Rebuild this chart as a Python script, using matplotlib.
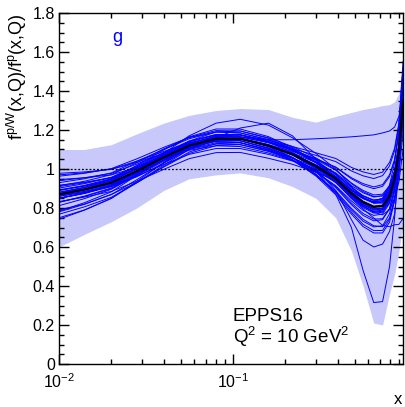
import matplotlib
matplotlib.use("Agg")
import matplotlib.pyplot as plt
from matplotlib.ticker import FixedLocator, LogLocator, MultipleLocator, NullFormatter, FuncFormatter

plt.rcParams['font.family'] = ['Liberation Sans', 'DejaVu Sans']
plt.rcParams['mathtext.fontset'] = 'custom'
plt.rcParams['mathtext.rm'] = 'Liberation Sans'
plt.rcParams['mathtext.it'] = 'Liberation Sans:italic'

# gluon nuclear modification for W (EPPS16, Q^2 = 10 GeV^2)
x_nodes = [0.01, 0.014, 0.02, 0.028, 0.04, 0.056, 0.08, 0.11, 0.16, 0.22,
           0.3, 0.39, 0.48, 0.56, 0.645, 0.725, 0.795, 0.85, 0.9, 0.95]

central = [0.87, 0.895, 0.93, 0.99, 1.06, 1.12, 1.155, 1.155, 1.12, 1.075,
           1.015, 0.95, 0.875, 0.83, 0.805, 0.81, 0.86, 0.95, 1.09, 1.35]

band_lo = [0.60, 0.665, 0.73, 0.80, 0.89, 0.95, 0.97, 0.98, 0.955, 0.91,
           0.85, 0.75, 0.58, 0.40, 0.21, 0.20, 0.36, 0.46, 0.58, 0.72]
band_hi = [1.10, 1.10, 1.125, 1.18, 1.235, 1.275, 1.30, 1.31, 1.305, 1.265,
           1.24, 1.27, 1.29, 1.305, 1.315, 1.325, 1.33, 1.345, 1.39, 1.54]

error_sets = [
    [0.97, 0.98, 1.0, 1.04, 1.09, 1.135, 1.16, 1.155, 1.12, 1.073, 1.01, 0.941, 0.863, 0.816, 0.79, 0.795, 0.847, 0.94, 1.085, 1.348],
    [0.75, 0.79, 0.85, 0.93, 1.02, 1.10, 1.15, 1.155, 1.12, 1.08, 1.02, 0.96, 0.89, 0.85, 0.825, 0.83, 0.88, 0.96, 1.10, 1.35],
    [0.93, 0.95, 0.98, 1.04, 1.10, 1.155, 1.19, 1.185, 1.15, 1.10, 1.033, 0.962, 0.883, 0.835, 0.81, 0.815, 0.87, 0.97, 1.12, 1.40],
    [0.79, 0.82, 0.87, 0.93, 1.01, 1.08, 1.12, 1.125, 1.093, 1.056, 1.008, 0.956, 0.892, 0.854, 0.832, 0.839, 0.887, 0.97, 1.10, 1.353],
    [0.875, 0.905, 0.948, 1.018, 1.098, 1.165, 1.205, 1.205, 1.166, 1.11, 1.035, 0.952, 0.864, 0.809, 0.78, 0.783, 0.833, 0.93, 1.08, 1.347],
    [0.865, 0.885, 0.913, 0.963, 1.023, 1.075, 1.105, 1.105, 1.075, 1.041, 0.999, 0.954, 0.895, 0.861, 0.84, 0.848, 0.896, 0.976, 1.104, 1.354],
    [0.91, 0.929, 0.957, 1.01, 1.073, 1.126, 1.157, 1.155, 1.125, 1.09, 1.05, 1.01, 0.955, 0.925, 0.908, 0.92, 0.97, 1.05, 1.185, 1.46],
    [0.83, 0.861, 0.903, 0.97, 1.047, 1.114, 1.153, 1.155, 1.114, 1.057, 0.973, 0.878, 0.779, 0.716, 0.684, 0.685, 0.742, 0.855, 1.018, 1.288],
    [0.872, 0.899, 0.937, 1.001, 1.075, 1.138, 1.175, 1.175, 1.142, 1.10, 1.048, 0.994, 0.928, 0.89, 0.867, 0.871, 0.914, 0.989, 1.111, 1.356],
    [0.869, 0.893, 0.927, 0.985, 1.053, 1.111, 1.145, 1.145, 1.107, 1.057, 0.985, 0.904, 0.817, 0.762, 0.734, 0.74, 0.797, 0.905, 1.066, 1.343],
    [0.946, 0.955, 0.97, 1.008, 1.056, 1.096, 1.119, 1.115, 1.082, 1.043, 0.991, 0.934, 0.865, 0.824, 0.798, 0.798, 0.84, 0.915, 1.03, 1.25],
    [0.784, 0.827, 0.883, 0.967, 1.061, 1.143, 1.19, 1.195, 1.16, 1.115, 1.057, 0.996, 0.925, 0.884, 0.859, 0.862, 0.905, 0.983, 1.108, 1.355],
    [0.89, 0.912, 0.944, 1.0, 1.066, 1.123, 1.156, 1.155, 1.121, 1.078, 1.022, 0.962, 0.891, 0.849, 0.831, 0.85, 0.918, 1.033, 1.217, 1.552],
    [0.85, 0.878, 0.916, 0.98, 1.054, 1.117, 1.154, 1.155, 1.119, 1.072, 1.008, 0.938, 0.859, 0.811, 0.778, 0.765, 0.792, 0.85, 0.933, 1.098],
    [0.902, 0.925, 0.957, 1.016, 1.085, 1.143, 1.177, 1.175, 1.137, 1.085, 1.013, 0.934, 0.848, 0.795, 0.749, 0.711, 0.704, 0.714, 0.716, 0.746],
    [0.85, 0.875, 0.915, 0.985, 1.08, 1.17, 1.235, 1.255, 1.225, 1.16, 1.08, 1.0, 0.91, 0.855, 0.825, 0.825, 0.87, 0.96, 1.10, 1.36],
    [0.86, 0.88, 0.91, 0.96, 1.03, 1.10, 1.16, 1.21, 1.235, 1.17, 1.05, 0.95, 0.865, 0.82, 0.795, 0.80, 0.85, 0.945, 1.085, 1.34],
    [0.742, 0.789, 0.849, 0.936, 1.033, 1.119, 1.169, 1.175, 1.14, 1.094, 1.034, 0.97, 0.896, 0.852, 0.827, 0.831, 0.878, 0.963, 1.097, 1.352],
    [0.978, 0.985, 0.998, 1.034, 1.08, 1.119, 1.141, 1.135, 1.10, 1.056, 0.996, 0.93, 0.854, 0.808, 0.783, 0.789, 0.842, 0.937, 1.083, 1.348],
    [0.917, 0.932, 0.954, 0.999, 1.054, 1.101, 1.128, 1.125, 1.09, 1.045, 0.983, 0.914, 0.836, 0.788, 0.762, 0.769, 0.824, 0.924, 1.076, 1.346],
    [0.812, 0.848, 0.896, 0.971, 1.056, 1.129, 1.172, 1.175, 1.141, 1.096, 1.038, 0.976, 0.904, 0.862, 0.839, 0.846, 0.897, 0.987, 1.131, 1.403],
    [0.829, 0.859, 0.899, 0.965, 1.04, 1.105, 1.143, 1.145, 1.108, 1.058, 0.988, 0.91, 0.825, 0.772, 0.743, 0.745, 0.796, 0.894, 1.039, 1.294],
    [0.891, 0.914, 0.947, 1.006, 1.074, 1.132, 1.166, 1.165, 1.134, 1.097, 1.053, 1.008, 0.95, 0.917, 0.899, 0.911, 0.961, 1.044, 1.182, 1.459],
    [0.849, 0.876, 0.913, 0.975, 1.046, 1.108, 1.144, 1.145, 1.104, 1.048, 0.964, 0.868, 0.769, 0.705, 0.672, 0.672, 0.727, 0.838, 0.997, 1.257],
    [0.881, 0.906, 0.94, 1.001, 1.071, 1.131, 1.166, 1.165, 1.137, 1.104, 1.07, 1.038, 0.99, 0.965, 0.951, 0.966, 1.016, 1.094, 1.229, 1.514],
    [0.78, 0.819, 0.869, 0.945, 1.031, 1.107, 1.151, 1.155, 1.123, 1.083, 1.033, 0.98, 0.915, 0.878, 0.856, 0.863, 0.911, 0.993, 1.126, 1.385],
    [0.94, 0.955, 0.978, 1.025, 1.082, 1.131, 1.159, 1.155, 1.119, 1.071, 1.005, 0.932, 0.851, 0.802, 0.774, 0.778, 0.829, 0.924, 1.068, 1.327],
    [0.868, 0.891, 0.923, 0.979, 1.045, 1.102, 1.135, 1.135, 1.097, 1.046, 0.972, 0.888, 0.798, 0.742, 0.709, 0.704, 0.749, 0.839, 0.969, 1.191],
    [0.892, 0.916, 0.951, 1.011, 1.081, 1.141, 1.176, 1.175, 1.147, 1.115, 1.083, 1.054, 1.008, 0.985, 0.972, 0.984, 1.034, 1.107, 1.236, 1.516],
    [0.833, 0.856, 0.885, 0.937, 0.998, 1.053, 1.084, 1.085, 1.055, 1.024, 0.984, 0.94, 0.882, 0.848, 0.828, 0.837, 0.887, 0.97, 1.101, 1.353],
    [0.914, 0.937, 0.971, 1.032, 1.103, 1.162, 1.197, 1.195, 1.157, 1.104, 1.032, 0.954, 0.869, 0.817, 0.789, 0.792, 0.842, 0.937, 1.083, 1.348],
    [0.768, 0.806, 0.855, 0.929, 1.013, 1.087, 1.13, 1.135, 1.096, 1.044, 0.968, 0.882, 0.79, 0.732, 0.703, 0.709, 0.77, 0.885, 1.055, 1.34],
    [0.963, 0.978, 1.002, 1.052, 1.111, 1.161, 1.19, 1.185, 1.15, 1.104, 1.044, 0.974, 0.907, 0.863, 0.84, 0.847, 0.897, 0.987, 1.131, 1.403],
    [0.85, 0.875, 0.91, 0.97, 1.045, 1.11, 1.15, 1.155, 1.12, 1.06, 0.99, 0.87, 0.70, 0.48, 0.315, 0.32, 0.50, 0.75, 1.05, 1.45],
    [0.86, 0.885, 0.92, 0.98, 1.055, 1.12, 1.16, 1.16, 1.125, 1.075, 1.0, 0.89, 0.74, 0.635, 0.60, 0.615, 0.68, 0.77, 0.98, 1.40],
    [0.88, 0.905, 0.94, 1.0, 1.07, 1.13, 1.165, 1.165, 1.15, 1.15, 1.155, 1.16, 1.165, 1.17, 1.175, 1.185, 1.195, 1.215, 1.27, 1.40],
]

x_ticks = [0.01, 0.1]
y_ticks = [0, 0.2, 0.4, 0.6, 0.8, 1.0, 1.2, 1.4, 1.6, 1.8]


def plot_ratio():
    fig = plt.figure(figsize=(4.05, 4.07), dpi=100)
    ax = fig.add_axes([59 / 405, 43 / 407, 344 / 405, 351 / 407])

    ax.fill_between(x_nodes, band_lo, band_hi, color='#c8c8fa', lw=0, zorder=1)
    for ys in error_sets:
        ax.plot(x_nodes, ys, color='#0000ff', lw=0.7, zorder=2)
    ax.plot(x_nodes, central, color='black', lw=1.5, zorder=3)
    ax.axhline(1.0, color='black', ls=(0, (1.5, 1.5)), lw=0.9, zorder=4)

    ax.set_xscale('log')
    ax.set_xlim(0.01, 0.95)
    ax.set_ylim(0, 1.8)

    ax.xaxis.set_major_locator(FixedLocator(x_ticks))
    ax.xaxis.set_minor_locator(LogLocator(base=10, subs=range(2, 10)))
    ax.xaxis.set_minor_formatter(NullFormatter())
    ax.yaxis.set_major_locator(FixedLocator(y_ticks))
    ax.yaxis.set_minor_locator(MultipleLocator(0.05))
    ax.yaxis.set_major_formatter(FuncFormatter(lambda v, p: '%g' % v))

    ax.tick_params(which='both', direction='in', top=True, right=True,
                   labelsize=11.5, width=1.0)
    ax.tick_params(which='major', length=7)
    ax.tick_params(which='minor', length=3.5)
    ax.tick_params(axis='x', pad=6)
    ax.tick_params(axis='y', pad=3)
    for s in ax.spines.values():
        s.set_linewidth(1.0)

    fig.text(17 / 405, 1 - 13 / 407,
             r'f$^{\mathdefault{p/W}}$(x,Q)/f$^{\mathdefault{p}}$(x,Q)',
             rotation=90, ha='center', va='top', fontsize=13)
    fig.text(398 / 405, 1 - 400 / 407, 'x', ha='center', va='center', fontsize=12)

    fig.text(117 / 405, 1 - 42 / 407, 'g', color='#0000ff', ha='center',
             va='baseline', fontsize=13)
    fig.text(233 / 405, 1 - 321 / 407, 'EPPS16', ha='left', va='baseline',
             fontsize=13.5)
    fig.text(233 / 405, 1 - 343 / 407,
             r'Q$^{\mathdefault{2}}$ = 10 GeV$^{\mathdefault{2}}$',
             ha='left', va='baseline', fontsize=13.5)

    fig.savefig('out.png', dpi=100)


plot_ratio()
